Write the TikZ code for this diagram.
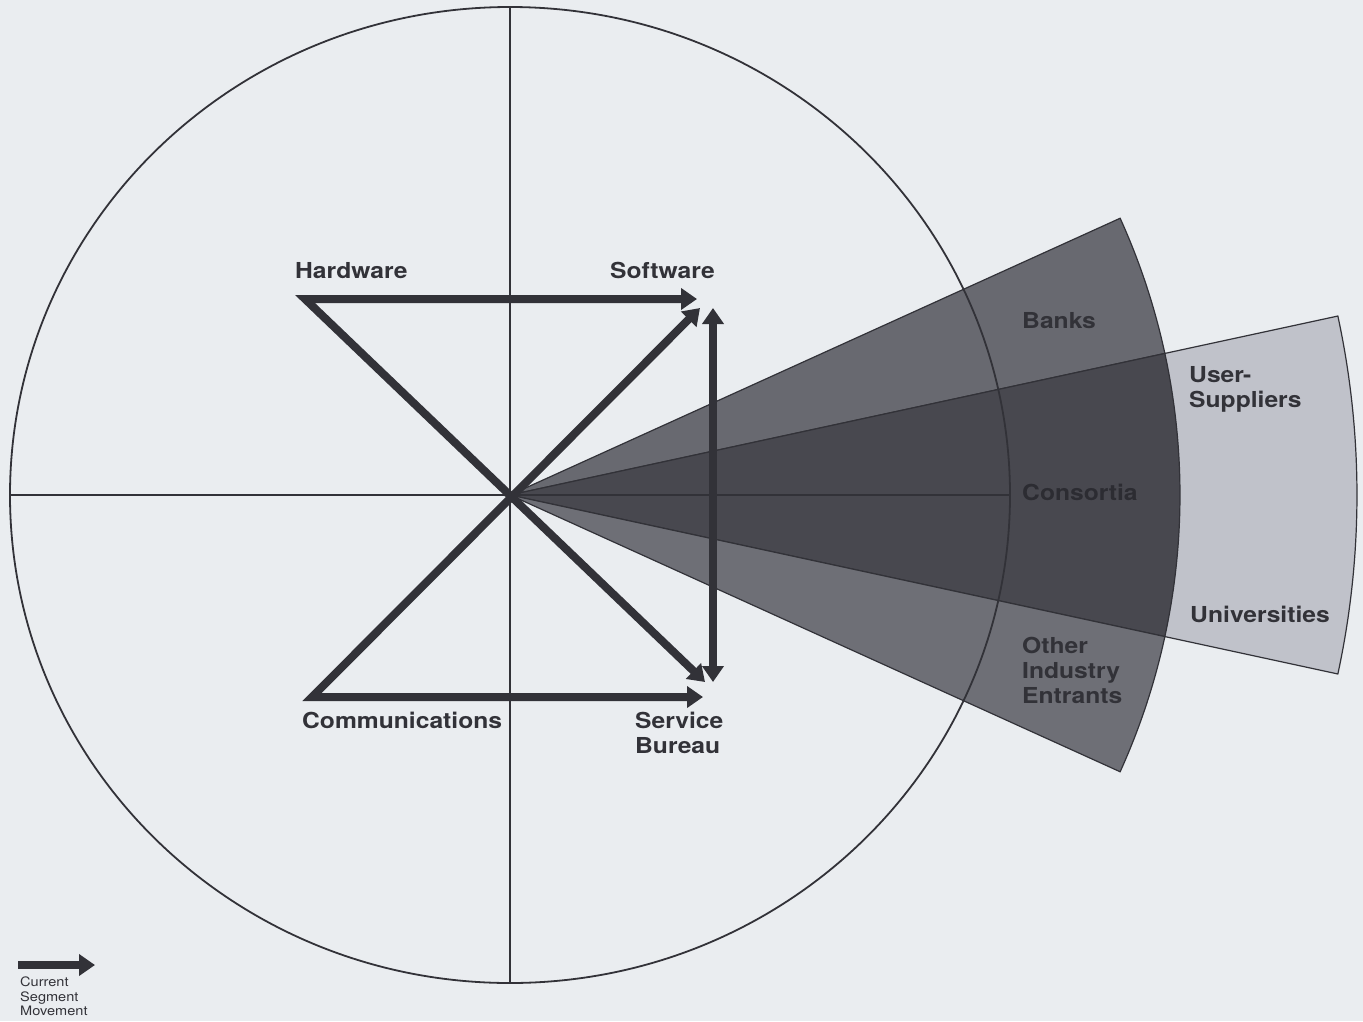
\documentclass[tikz,border=0pt]{standalone}
\usepackage{fontspec}
\setmainfont{TeX Gyre Heros}
\newfontfamily\labelfont[FakeStretch=1.12]{TeX Gyre Heros}
\usepackage{xcolor}
\usetikzlibrary{arrows.meta}
\definecolor{paper}{RGB}{234,237,240}
\definecolor{inkgray}{RGB}{50,50,56}
\definecolor{consink}{RGB}{44,44,50}
\definecolor{bankgray}{RGB}{104,105,112}
\definecolor{consgray}{RGB}{72,72,79}
\definecolor{othergray}{RGB}{110,111,118}
\definecolor{univgray}{RGB}{192,194,202}

\begin{document}
\begin{tikzpicture}[x=1pt,y=-1pt]
\tikzset{seglabel/.style={font=\labelfont\bfseries\fontsize{22}{25}\selectfont,text=inkgray,inner sep=0pt,anchor=north west,align=left},
         movearrow/.style={line width=8pt,draw=inkgray,line join=miter,-{Triangle[length=16pt,width=21pt]}},
         movearrows/.style={movearrow,{Triangle[length=16pt,width=21pt]}-{Triangle[length=16pt,width=21pt]}},
         sector/.style={draw=inkgray,line width=1.2pt}}
\def\rin{670}\def\rout{847}\def\aone{12.2}\def\atwo{24.4}
% Paper
\useasboundingbox (0,0) rectangle (1363,1021);
\fill[paper] (0,0) rectangle (1363,1021);
\coordinate (hub) at (510,495);
% Outer wedge (user-suppliers, universities)
\filldraw[sector,fill=univgray] (hub) -- ++(-\aone:\rout) arc[start angle=-\aone,end angle=\aone,radius=\rout] -- cycle;
% Inner wedges
\filldraw[sector,fill=bankgray] (hub) -- ++(-\atwo:\rin) arc[start angle=-\atwo,end angle=-\aone,radius=\rin] -- cycle;
\filldraw[sector,fill=consgray] (hub) -- ++(-\aone:\rin) arc[start angle=-\aone,end angle=\aone,radius=\rin] -- cycle;
\filldraw[sector,fill=othergray] (hub) -- ++(\aone:\rin) arc[start angle=\aone,end angle=\atwo,radius=\rin] -- cycle;
% Circle and axes
\draw[line width=1.8pt,inkgray] (hub) ellipse[x radius=500,y radius=488];
\draw[line width=1.5pt,inkgray] (10,495) -- (1010,495);
\draw[line width=1.5pt,inkgray] (510,7) -- (510,983);
% Arrow ends
\coordinate (hwc) at (305,299);
\coordinate (swh) at (697,299);
\coordinate (swd) at (700,308);
\coordinate (swv) at (713,308);
\coordinate (comc) at (312,697);
\coordinate (sbh) at (703,697);
\coordinate (sbd) at (705,682);
\coordinate (sbv) at (713,682);
% Segment movement
\draw[movearrows] (swh) -- (hwc) -- (sbd);
\draw[movearrows] (swd) -- (comc) -- (sbh);
\draw[movearrows] (swv) -- (sbv);
% Labels
\node[seglabel] (hw) at (295,262) {Hardware};
\node[seglabel] (sw) at (610,262) {Software};
\node[seglabel] (comm) at (302,712) {Communications};
\node[seglabel] (sb) at (635,712) {Service\\Bureau};
\node[seglabel] (banks) at (1022,312) {Banks};
\node[seglabel] (usersup) at (1189,366) {User-\\Suppliers};
\node[seglabel,text=consink] (cons) at (1022,484) {Consortia};
\node[seglabel] (univ) at (1190,606) {Universities};
\node[seglabel] (other) at (1022,637) {Other\\Industry\\Entrants};
% Key
\coordinate (keys) at (18,965);
\coordinate (keye) at (95,965);
\draw[movearrow] (keys) -- (keye);
\node[anchor=north west,inner sep=0pt,align=left,text=inkgray,font=\labelfont\fontsize{13}{14.5}\selectfont] (key) at (20,977) {Current\\Segment\\Movement};
\end{tikzpicture}
\end{document}
